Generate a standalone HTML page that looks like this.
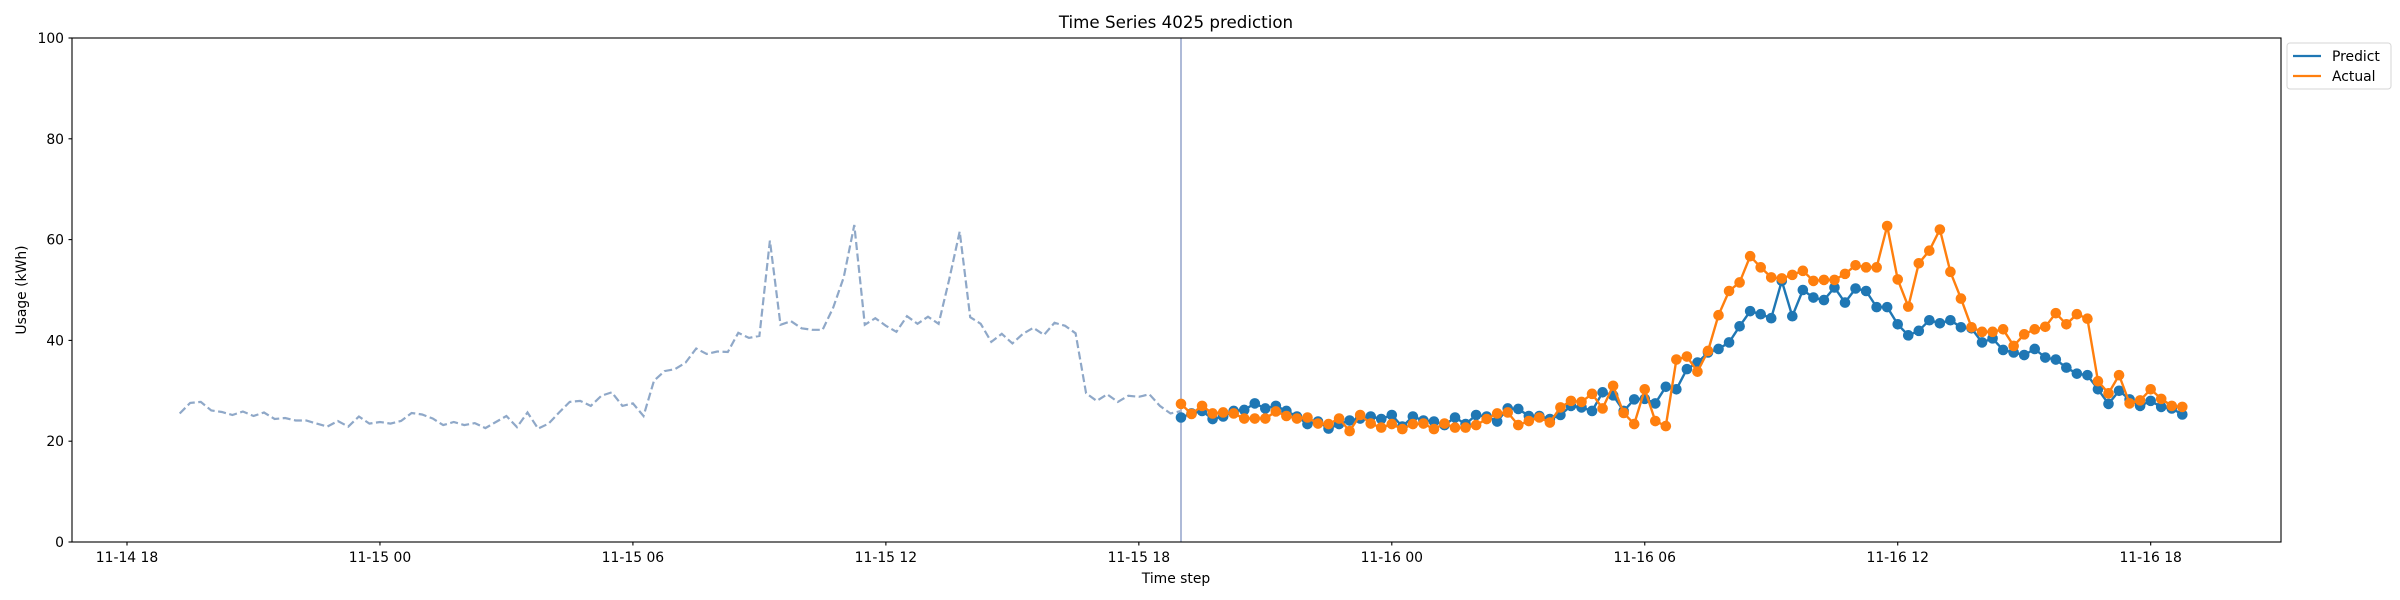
<!DOCTYPE html>
<html>
<head>
<meta charset="utf-8">
<style>
  html, body { margin:0; padding:0; background:#fff; }
  svg { display:block; font-family: "DejaVu Sans", "Liberation Sans", sans-serif; }
</style>
</head>
<body>
<svg id="chart" width="2400" height="600" viewBox="0 0 2400 600" xmlns="http://www.w3.org/2000/svg">
  <rect x="0" y="0" width="2400" height="600" fill="#fff"/>
  <text x="1176" y="28" text-anchor="middle" font-size="16.7" fill="#000">Time Series 4025 prediction</text>
  <g id="grid"></g>
  <g id="series"></g>
  <rect x="72" y="38" width="2209" height="504" fill="none" stroke="#000" stroke-width="1.1"/>
  <g id="axes"></g>
  <text x="1176" y="583" text-anchor="middle" font-size="13.9" fill="#000">Time step</text>
  <text x="0" y="0" transform="translate(26,290) rotate(-90)" text-anchor="middle" font-size="13.9" fill="#000">Usage (kWh)</text>
  <g>
    <rect x="2287" y="43" width="104" height="46" rx="3" fill="#fff" stroke="#d6d6d6" stroke-width="1"/>
    <line x1="2293" y1="56" x2="2321" y2="56" stroke="#1f77b4" stroke-width="2.2"/>
    <text x="2332" y="61" font-size="13.9" fill="#000">Predict</text>
    <line x1="2293" y1="76" x2="2321" y2="76" stroke="#ff7f0e" stroke-width="2.2"/>
    <text x="2332" y="81" font-size="13.9" fill="#000">Actual</text>
  </g>
</svg>
<script>
const yTicks = [0, 20, 40, 60, 80, 100];
const xTickLabels = ["11-14 18","11-15 00","11-15 06","11-15 12","11-15 18","11-16 00","11-16 06","11-16 12","11-16 18"];
const xTickHours = [0, 6, 12, 18, 24, 30, 36, 42, 48];
const historyStartHour = 1.25;
const forecastStartHour = 25;
const stepHours = 0.25;
const history = [25.5,27.6,27.8,26.1,25.8,25.2,25.9,25.0,25.7,24.4,24.6,24.1,24.1,23.5,22.9,24.0,22.9,24.9,23.5,23.8,23.5,24.0,
  25.6,25.3,24.5,23.2,23.8,23.2,23.6,22.6,23.8,25.0,22.8,25.7,22.5,23.5,25.7,27.8,28.0,27.0,29.0,29.7,27.0,27.5,25.0,
  32.0,33.9,34.3,35.6,38.4,37.3,37.8,37.7,41.5,40.5,40.9,59.8,43.1,43.8,42.4,42.1,42.1,
  46.5,52.5,62.9,43.1,44.4,42.9,41.7,44.8,43.3,44.7,43.3,52.0,61.6,44.6,43.3,39.7,41.3,39.4,41.3,42.5,41.1,43.5,42.9,41.4,
  29.5,28.0,29.3,27.8,29.0,28.8,29.3,27.0,25.5,26.0];
const predict = [24.7,25.5,26.0,24.4,24.9,26.0,26.2,27.5,26.5,27.0,26.0,24.9,23.4,23.9,22.5,23.4,24.1,24.5,24.9,24.4,25.2,22.9,24.9,24.1,23.9,23.2,24.7,23.4,25.2,24.9,23.9,26.5,
  26.4,25.0,25.0,24.4,25.2,27.0,26.7,26.0,29.7,29.1,26.0,28.3,28.4,27.5,30.8,30.3,34.3,35.6,37.6,38.3,39.6,42.8,45.8,45.2,44.4,51.8,44.8,50.0,48.5,48.0,50.5,47.5,
  50.3,49.8,46.6,46.6,43.2,41.0,41.9,44.0,43.4,44.0,42.6,42.4,39.6,40.4,38.1,37.6,37.1,38.3,36.6,36.2,34.6,33.4,33.1,30.3,27.4,30.0,28.3,27.0,28.0,26.8,26.5,25.3];
const actual = [27.4,25.4,27.0,25.5,25.7,25.5,24.5,24.5,24.5,25.9,25.0,24.5,24.7,23.5,23.4,24.5,22.0,25.2,23.5,22.7,23.4,22.4,23.4,23.5,22.4,23.5,22.7,22.7,23.2,24.4,25.5,25.7,
  23.2,24.0,24.7,23.7,26.7,28.0,27.8,29.4,26.5,31.0,25.6,23.4,30.3,24.0,23.0,36.2,36.8,33.8,37.9,45.0,49.8,51.5,56.7,54.5,52.5,52.3,53.0,53.8,51.8,52.0,52.0,53.2,
  54.9,54.5,54.5,62.7,52.1,46.7,55.3,57.8,62.0,53.6,48.3,42.6,41.7,41.7,42.2,38.9,41.2,42.2,42.7,45.4,43.2,45.2,44.3,31.9,29.5,33.1,27.5,28.1,30.3,28.4,27.0,26.8];

const NS = "http://www.w3.org/2000/svg";
const X0 = 127, PXH = 42.16, YB = 542, PXU = 5.04;
function xScale(h) { return X0 + h * PXH; }
function yScale(v) { return YB - v * PXU; }
function mk(tag, attrs, parent) {
  const e = document.createElementNS(NS, tag);
  for (const k in attrs) e.setAttribute(k, attrs[k]);
  parent.appendChild(e);
  return e;
}
const axes = document.getElementById("axes");
const series = document.getElementById("series");

yTicks.forEach(v => {
  const y = yScale(v);
  const t = mk("line", {x1:68.5, y1:y, x2:72, y2:y, stroke:"#000", "stroke-width":1.1}, axes);
  
  
  const l = mk("text", {x:64, y:y+5, "text-anchor":"end", "font-size":13.9, fill:"#000"}, axes);
  
  
  l.textContent = v;
});
xTickHours.forEach((h, i) => {
  const x = xScale(h);
  const t = mk("line", {x1:x, y1:542, x2:x, y2:545.5, stroke:"#000", "stroke-width":1.1}, axes);
  
  
  const l = mk("text", {x:x, y:562, "text-anchor":"middle", "font-size":13.9, fill:"#000"}, axes);
  
  
  l.textContent = xTickLabels[i];
});

// history dashed line
const hp = history.map((v, i) => xScale(historyStartHour + i * stepHours).toFixed(1) + "," + yScale(v).toFixed(1)).join(" ");
const hl = mk("polyline", {points:hp, fill:"none", stroke:"#8fa8c8", "stroke-width":2.2, "stroke-dasharray":"8,3.5"}, series);



// forecast start marker
const vx = xScale(forecastStartHour);
const vl = mk("line", {x1:vx, y1:38, x2:vx, y2:542, stroke:"#a5b3d3", "stroke-width":1.8}, series);



function drawSeries(vals, color, name) {
  const g = mk("g", {}, series);
  
  
  const pts = vals.map((v, i) => xScale(forecastStartHour + i * stepHours).toFixed(1) + "," + yScale(v).toFixed(1)).join(" ");
  const pl = mk("polyline", {points:pts, fill:"none", stroke:color, "stroke-width":2.4}, g);
  
  
  vals.forEach((v, i) => {
    const c = mk("circle", {cx:xScale(forecastStartHour + i * stepHours), cy:yScale(v), r:5.3, fill:color}, g);
    
    
  });
}
drawSeries(predict, "#1f77b4", "predict");
drawSeries(actual, "#ff7f0e", "actual");
</script>
</body>
</html>
